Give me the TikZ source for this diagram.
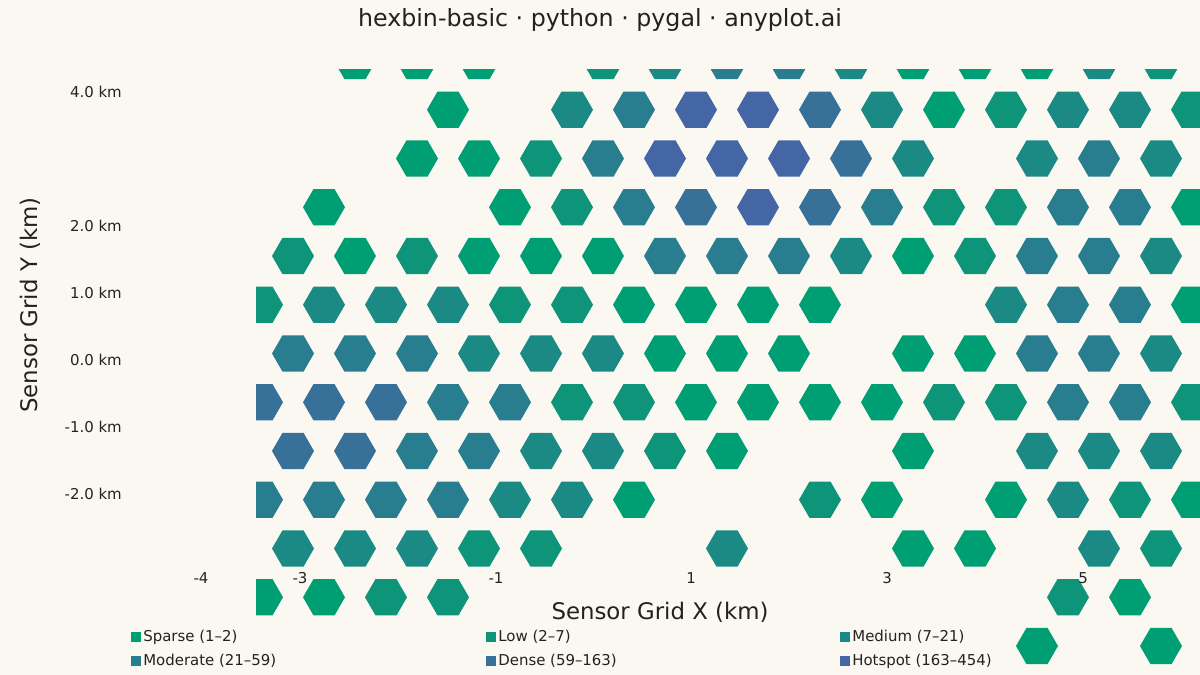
\documentclass[tikz,border=0pt]{standalone}
\usepackage{fontspec}
\setmainfont{DejaVu Sans}
\usepackage{xcolor}
\definecolor{bgpaper}{HTML}{FAF8F1}
\definecolor{inkdark}{HTML}{222222}
\definecolor{lev1}{HTML}{009E73}
\definecolor{lev2}{HTML}{0E9479}
\definecolor{lev3}{HTML}{1B8A84}
\definecolor{lev4}{HTML}{287D8E}
\definecolor{lev5}{HTML}{37719A}
\definecolor{lev6}{HTML}{4466A4}
\tikzset{
  ticklab/.style={font=\fontsize{8.5}{10}\selectfont, text=inkdark},
  axtitle/.style={font=\fontsize{13}{15}\selectfont, text=inkdark},
  legkey/.style={font=\fontsize{8.5}{10}\selectfont, text=inkdark, anchor=west, inner sep=0pt},
}
\newcommand{\hexcell}[3]{\fill[#3] (#1,#2) +(0:21) -- +(60:21) -- +(120:21) -- +(180:21) -- +(240:21) -- +(300:21) -- cycle;}
\begin{document}
\begin{tikzpicture}[x=0.02cm,y=-0.02cm]
  \fill[bgpaper] (0,0) rectangle (1200,675);
  \useasboundingbox (0,0) rectangle (1200,675);
  % hex cells, one list per row (0 = empty)
  \begin{scope}
    \clip (256,70) rectangle (1200,675);
    \foreach \r/\xo/\cells in {
      0/293/{0,1,1,1,0,2,3,4,4,3,1,1,1,3,2},
      1/262/{0,0,0,1,0,3,4,6,6,5,3,1,2,3,3,2},
      2/293/{0,0,1,1,2,4,6,6,6,5,3,0,3,4,3,3},
      3/262/{0,1,0,0,1,2,4,5,6,5,4,2,2,4,4,1},
      4/293/{2,1,2,1,1,1,4,4,4,3,1,2,4,4,3,3},
      5/262/{2,3,3,3,2,2,1,1,1,1,0,0,3,4,4,1},
      6/293/{4,4,4,3,3,3,1,1,1,0,1,1,4,4,3,3},
      7/262/{5,5,5,4,4,2,2,1,1,1,1,2,2,4,4,2},
      8/293/{5,5,4,4,3,3,2,1,0,0,1,0,3,3,3,0},
      9/262/{4,4,4,4,3,3,1,0,0,2,1,0,1,3,2,1},
      10/293/{3,3,3,2,2,0,0,3,0,0,1,1,0,3,2,0},
      11/262/{1,1,2,2,0,0,0,0,0,0,0,0,0,2,1,0},
      12/293/{0,0,0,0,0,0,0,0,0,0,0,0,1,0,1,0}} {
      \pgfmathsetmacro{\yy}{61+48.75*\r}
      \foreach \v [count=\k from 0] in \cells {
        \ifnum\v>0
          \pgfmathsetmacro{\xx}{\xo+62*\k}
          \hexcell{\xx}{\yy}{lev\v}
        \fi
      }
    }
  \end{scope}
  % title and axes
  \node[font=\fontsize{13.5}{16}\selectfont, text=inkdark] (title) at (600,20) {hexbin-basic · python · pygal · anyplot.ai};
  \node[axtitle] (xtitle) at (660,612) {Sensor Grid X (km)};
  \node[axtitle, rotate=90] (ytitle) at (30,305) {Sensor Grid Y (km)};
  \foreach \lab/\yy in {4.0/92, 2.0/226, 1.0/293, 0.0/360, -1.0/427, -2.0/494}
    \node[ticklab, anchor=east] at (128,\yy) {\lab\ km};
  \foreach \lab/\xx in {-4/201, -3/300, -1/496, 1/691, 3/887, 5/1083}
    \node[ticklab] at (\xx,578) {\lab};
  % legend
  \foreach \name/\lv/\xx/\yy in {Sparse (1–2)/1/131/637, Low (2–7)/2/486/637, Medium (7–21)/3/840/637,
      Moderate (21–59)/4/131/661, Dense (59–163)/5/486/661, Hotspot (163–454)/6/840/661} {
    \fill[lev\lv] (\xx,\yy-5) rectangle (\xx+10,\yy+5);
    \node[legkey] at (\xx+12,\yy) {\name};
  }
\end{tikzpicture}
\end{document}
